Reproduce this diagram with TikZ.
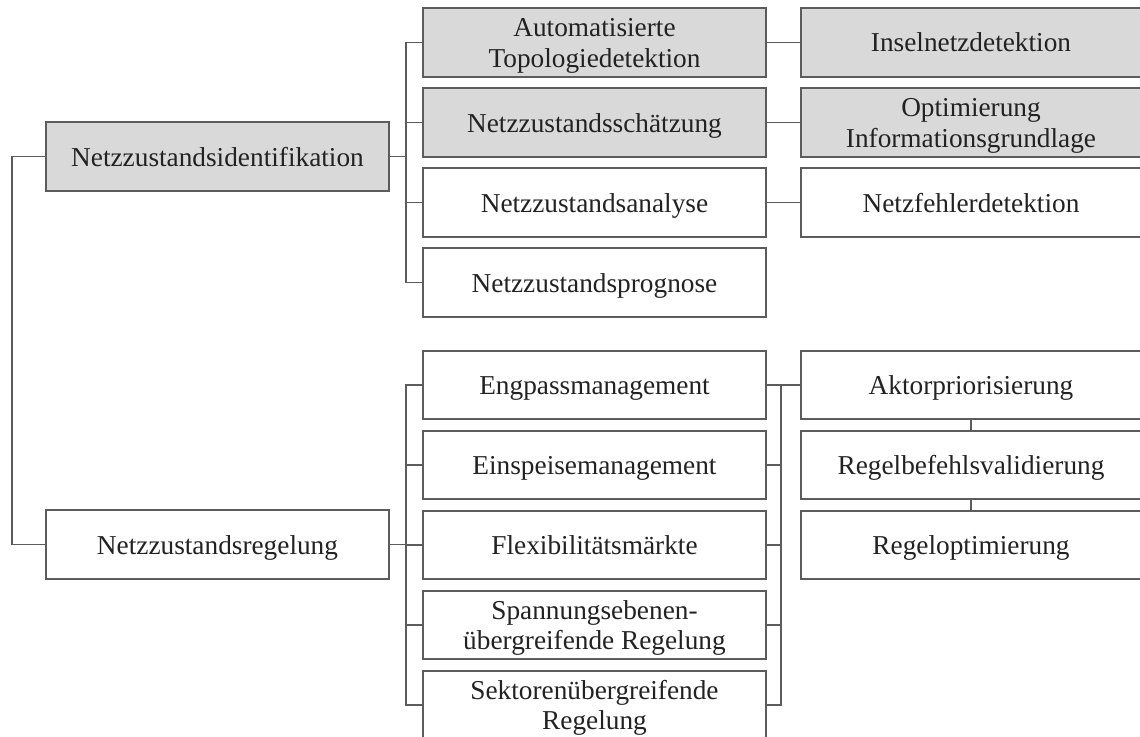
\documentclass[tikz,border=0pt]{standalone}
\usepackage{fontspec}
\setmainfont{Liberation Serif}
\definecolor{boxline}{RGB}{92,92,92}
\definecolor{boxfill}{RGB}{217,217,217}
\definecolor{boxtext}{RGB}{34,34,34}
% two centred lines with fixed ascent above the first and descent below the last
\newcommand{\twolines}[2]{\rule{0pt}{25bp}#1\\#2\rule[-6bp]{0pt}{6bp}}
\begin{document}
\begin{tikzpicture}[x=1bp,y=-1bp,
  item/.style={draw=boxline, line width=1.8bp, fill=white, text=boxtext,
    rectangle, inner sep=0pt, outer sep=0pt, align=center,
    font=\fontsize{27.4}{31}\selectfont, minimum height=69bp},
  oneline/.style={text height=25bp, text depth=6bp},
  shaded/.style={item, fill=boxfill},
  wide/.style={minimum width=343bp},
  right col/.style={minimum width=340bp},
  edge/.style={draw=boxline, line width=1.8bp}]
\useasboundingbox (0,0) rectangle (1140,737);
\clip (0,0) rectangle (1140,737);

% level 1
\node[shaded, wide, oneline] (ident) at (217.5,156.5) {Netzzustandsidentifikation};
\node[item, wide, oneline]   (regel) at (217.5,544.5) {Netzzustandsregelung};

% level 2, identification branch
\node[shaded, wide] (topo)  at (594.5,42.5)  {\twolines{Automatisierte}{Topologiedetektion}};
\node[shaded, wide, oneline] (schaetz) at (594.5,122.5) {Netzzustandsschätzung};
\node[item, wide, oneline]   (analyse) at (594.5,202.5) {Netzzustandsanalyse};
\node[item, wide, oneline]   (prognose) at (594.5,282.5) {Netzzustandsprognose};

% level 3, identification branch
\node[shaded, right col, oneline] (insel) at (971,42.5)  {Inselnetzdetektion};
\node[shaded, right col] (optinfo) at (971,122.5) {\twolines{Optimierung}{Informationsgrundlage}};
\node[item, right col, oneline]   (fehler) at (971,202.5) {Netzfehlerdetektion};

% level 2, control branch
\node[item, wide, oneline, minimum height=68bp] (engpass) at (594.5,385) {Engpassmanagement};
\node[item, wide, oneline, minimum height=68bp] (einsp)   at (594.5,465) {Einspeisemanagement};
\node[item, wide, oneline, minimum height=68bp] (flex)    at (594.5,545) {Flexibilitätsmärkte};
\node[item, wide, minimum height=68bp] (spann)   at (594.5,625) {\twolines{Spannungsebenen-}{übergreifende Regelung}};
\node[item, wide, minimum height=68bp] (sektor)  at (594.5,705) {\twolines{Sektorenübergreifende}{Regelung}};

% level 3, control branch
\node[item, right col, oneline, minimum height=68bp] (aktor)  at (971,385) {Aktorpriorisierung};
\node[item, right col, oneline, minimum height=68bp] (valid)  at (971,465) {Regelbefehlsvalidierung};
\node[item, right col, oneline, minimum height=68bp] (regopt) at (971,545) {Regeloptimierung};

% root trunk
\draw[edge] (ident.west) -- ++(-34,0) |- (regel.west);

% identification fan-out
\foreach \c in {topo,schaetz,analyse,prognose}
  \draw[edge] (ident.east) -- ++(17,0) |- (\c.west);
\draw[edge] (topo.east) -- (insel.west);
\draw[edge] (schaetz.east) -- (optinfo.west);
\draw[edge] (analyse.east) -- (fehler.west);

% control fan-out
\foreach \c in {engpass,einsp,flex,spann,sektor}
  \draw[edge] (regel.east) -- ++(17,0) |- (\c.west);
\draw[edge] (engpass.east) -- (aktor.west);
\foreach \c in {einsp,flex,spann,sektor}
  \draw[edge] (\c.east) -- ++(15,0) |- (aktor.west);
\draw[edge] (aktor.south) -- (valid.north);
\draw[edge] (valid.south) -- (regopt.north);
\end{tikzpicture}
\end{document}
